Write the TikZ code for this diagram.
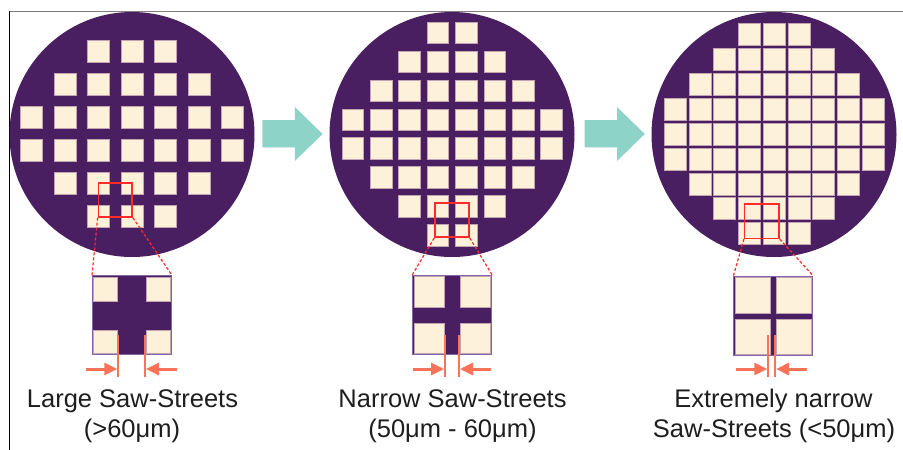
\documentclass[tikz,border=0pt]{standalone}
\usepackage{fontspec}
\newfontfamily\lblfont{Liberation Sans}
\usetikzlibrary{arrows.meta}
\definecolor{wafer}{HTML}{4A1F62}
\definecolor{diecol}{HTML}{FDF1D9}
\definecolor{dieedge}{HTML}{C4A4B0}
\definecolor{insetedge}{HTML}{8466A6}
\definecolor{zoomred}{HTML}{FF2A2A}
\definecolor{arrowteal}{HTML}{8ED3C8}
\definecolor{salmon}{HTML}{FA7258}
\definecolor{txt}{HTML}{1E1E1E}
\definecolor{framegray}{HTML}{7F7F7F}
\begin{document}
\begin{tikzpicture}[x=1pt,y=-1pt,
  waferc/.style={circle,fill=wafer,inner sep=0pt,minimum size=245pt},
  die/.style={rectangle,fill=diecol,draw=dieedge,line width=0.5pt,inner sep=0pt},
  redbox/.style={rectangle,draw=zoomred,line width=1.5pt,inner sep=0pt},
  zoomline/.style={draw=zoomred,line width=1.2pt,dash pattern=on 3pt off 2pt},
  insetbox/.style={rectangle,fill=wafer,draw=insetedge,line width=1pt,inner sep=0pt,minimum size=79pt},
  gapline/.style={draw=salmon,line width=2.2pt},
  gaparrow/.style={draw=salmon,line width=3pt,-{Triangle[length=13pt,width=12pt]}},
  lbl/.style={font=\lblfont\fontsize{25.5}{30}\selectfont,text=txt,inner sep=0pt},
  bigarrow/.style={fill=arrowteal}]
\useasboundingbox (0,0) rectangle (903,450);
% frame
\draw[framegray,line width=1.5pt] (9,11.5) -- (903,11.5);
\draw[black,line width=1.2pt] (9.5,11) -- (9.5,450);

% wafers
\node[waferc] (w1) at (132,134.5) {};
\node[waferc] (w2) at (452,134.5) {};
\node[waferc] (w3) at (774,134.5) {};

% dies wafer 1
\foreach \r/\a/\b in {0/2/4,1/1/5,2/0/6,3/0/6,4/1/5,5/2/4}{
  \foreach \c in {\a,...,\b}{
    \node[die,minimum size=22pt] (wa-\r-\c) at ({132+(\c-3)*33.5},{134+(\r-2.5)*33}) {};
  }
}
% dies wafer 2
\foreach \r/\a/\b in {0/3/4,1/2/5,2/1/6,3/0/7,4/0/7,5/1/6,6/2/5,7/3/4}{
  \foreach \c in {\a,...,\b}{
    \node[die,minimum size=21.5pt] (wb-\r-\c) at ({452+(\c-3.5)*28.4},{134+(\r-3.5)*28.9}) {};
  }
}
% dies wafer 3
\foreach \r/\a/\b in {0/3/5,1/2/6,2/1/7,3/0/8,4/0/8,5/0/8,6/1/7,7/2/6,8/3/5}{
  \foreach \c in {\a,...,\b}{
    \node[die,minimum size=22pt] (wc-\r-\c) at ({774+(\c-4)*24.75},{134+(\r-4)*24.9}) {};
  }
}

% process arrows
\foreach \x in {262.3,584.5}{
  \fill[bigarrow] (\x,120) -- ({\x+32.5},120) -- ({\x+32.5},107) -- ({\x+60.3},134) -- ({\x+32.5},161) -- ({\x+32.5},147.3) -- (\x,147.3) -- cycle;
}

% zoom boxes
\node[redbox,minimum size=33.7pt] (rb1) at (115.25,200) {};
\node[redbox,minimum size=34pt] (rb2) at (452,220.2) {};
\node[redbox,minimum size=34.3pt] (rb3) at (761.8,221.2) {};

% insets
\node[insetbox] (in1) at (132,315.3) {};
\node[insetbox] (in2) at (452.2,315) {};
\node[insetbox] (in3) at (773.4,316) {};

\foreach \n/\cx/\cy/\w in {1/132/315.3/29,2/452.2/315/15.5,3/773.4/316/6.5}{
  \pgfmathsetmacro{\ds}{(79-\w)/2-1.2}
  \pgfmathsetmacro{\off}{\w/2+\ds/2}
  \node[die,minimum size=\ds pt] (id\n a) at ({\cx-\off},{\cy-\off}) {};
  \node[die,minimum size=\ds pt] (id\n b) at ({\cx+\off},{\cy-\off}) {};
  \node[die,minimum size=\ds pt] (id\n c) at ({\cx-\off},{\cy+\off}) {};
  \node[die,minimum size=\ds pt] (id\n d) at ({\cx+\off},{\cy+\off}) {};
}

% zoom connectors
\foreach \n in {1,2,3}{
  \draw[zoomline] (rb\n.south west) -- (in\n.north west);
  \draw[zoomline] (rb\n.south east) -- (in\n.north east);
}

% street width markers
\foreach \n/\cx/\d in {1/131.6/13.3,2/452/7,3/771.7/3.4}{
  \coordinate (vl\n t) at ({\cx-\d},335);
  \coordinate (vl\n b) at ({\cx-\d},376.5);
  \coordinate (vr\n t) at ({\cx+\d},335);
  \coordinate (vr\n b) at ({\cx+\d},376.5);
  \draw[gapline] (vl\n t) -- (vl\n b);
  \draw[gapline] (vr\n t) -- (vr\n b);
  \coordinate (al\n s) at ({\cx-\d-32},369);
  \coordinate (al\n e) at ({\cx-\d-1},369);
  \coordinate (ar\n s) at ({\cx+\d+32},369);
  \coordinate (ar\n e) at ({\cx+\d+1},369);
  \draw[gaparrow] (al\n s) -- (al\n e);
  \draw[gaparrow] (ar\n s) -- (ar\n e);
}

% labels
\node[lbl,anchor=base] (t1a) at (132.5,407.5) {Large Saw-Streets};
\node[lbl,anchor=base] (t1b) at (132,437) {(>60μm)};
\node[lbl,anchor=base] (t2a) at (452.5,407.5) {Narrow Saw-Streets};
\node[lbl,anchor=base] (t2b) at (452.5,437) {(50μm - 60μm)};
\node[lbl,anchor=base] (t3a) at (773.5,407.5) {Extremely narrow};
\node[lbl,anchor=base] (t3b) at (774,437) {Saw-Streets (<50μm)};
\end{tikzpicture}
\end{document}
